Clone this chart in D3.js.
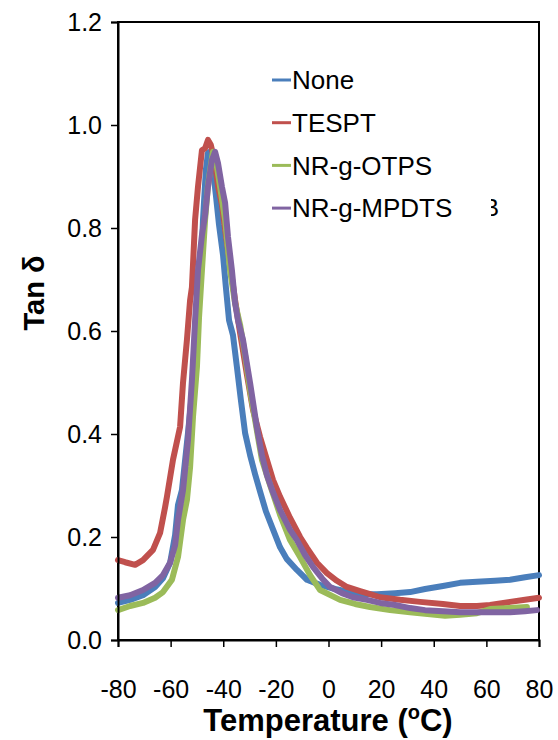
<!DOCTYPE html>
<html>
<head>
<meta charset="utf-8">
<script src="https://cdn.jsdelivr.net/npm/d3@7"></script>
<style>
  body { margin: 0; background: #fff; }
  text { font-family: "Liberation Sans", Arial, sans-serif; }
</style>
</head>
<body>
<div id="chart"></div>
<script>
// temperature / tan delta readings, one pair of arrays per sample
const noneT = [-80, -75.4, -70.5, -65.9, -62.9, -60.2, -58.3, -57.2, -55.7, -53.4, -51.5, -50.0, -48.8, -47.7, -46.6, -45.8, -45.0, -43.9, -42.8, -41.6, -40.1, -39.0, -37.8, -36.3, -34.8, -33.3, -31.7, -29.8, -27.9, -26.0, -23.8, -21.1, -18.4, -15.8, -12.0, -8.2, -3.2, 2.5, 8.2, 13.9, 18.4, 25.3, 31.0, 36.7, 43.5, 50.0, 56.4, 63.3, 69.0, 74.7, 80];
const noneV = [0.072, 0.078, 0.087, 0.103, 0.120, 0.150, 0.204, 0.262, 0.291, 0.402, 0.499, 0.596, 0.685, 0.816, 0.913, 0.946, 0.948, 0.913, 0.864, 0.806, 0.748, 0.685, 0.621, 0.592, 0.530, 0.466, 0.402, 0.359, 0.322, 0.288, 0.250, 0.215, 0.180, 0.157, 0.136, 0.117, 0.107, 0.099, 0.093, 0.089, 0.089, 0.091, 0.093, 0.099, 0.105, 0.111, 0.113, 0.115, 0.117, 0.122, 0.126];

const tesptT = [-80, -77.3, -73.5, -70.5, -66.7, -64.0, -62.1, -61.4, -59.1, -56.4, -55.3, -53.8, -52.6, -51.9, -50.7, -49.6, -48.1, -46.9, -45.8, -44.7, -43.1, -42.0, -40.5, -39.0, -37.4, -35.5, -33.6, -31.0, -28.7, -26.0, -23.4, -21.1, -18.4, -14.6, -10.8, -8.2, -4.4, -0.6, 3.2, 7.0, 12.0, 15.8, 19.6, 27.2, 34.8, 43.5, 50.0, 56.4, 61.4, 69.0, 74.7, 80];
const tesptV = [0.155, 0.151, 0.146, 0.155, 0.175, 0.208, 0.258, 0.278, 0.350, 0.414, 0.499, 0.583, 0.660, 0.685, 0.816, 0.880, 0.951, 0.955, 0.971, 0.961, 0.926, 0.882, 0.845, 0.786, 0.728, 0.660, 0.596, 0.515, 0.447, 0.394, 0.350, 0.311, 0.278, 0.237, 0.200, 0.179, 0.150, 0.130, 0.115, 0.103, 0.095, 0.089, 0.083, 0.078, 0.074, 0.070, 0.066, 0.066, 0.068, 0.074, 0.078, 0.082];

const otpsT = [-80, -75.4, -70.5, -65.9, -62.9, -59.5, -57.2, -55.3, -53.8, -52.6, -51.5, -50.0, -49.2, -48.1, -46.9, -45.8, -44.7, -43.9, -42.8, -41.2, -39.3, -37.4, -35.5, -33.6, -31.7, -29.8, -27.9, -25.3, -22.2, -18.4, -14.6, -10.8, -7.0, -3.2, 4.4, 10.1, 15.8, 23.4, 31.0, 38.6, 44.3, 50.0, 56.4, 61.4, 69.0, 75.4];
const otpsV = [0.058, 0.066, 0.072, 0.082, 0.093, 0.117, 0.161, 0.233, 0.272, 0.336, 0.433, 0.530, 0.627, 0.718, 0.816, 0.883, 0.922, 0.948, 0.932, 0.880, 0.816, 0.718, 0.654, 0.612, 0.553, 0.485, 0.427, 0.350, 0.301, 0.243, 0.194, 0.161, 0.126, 0.097, 0.078, 0.070, 0.064, 0.058, 0.054, 0.050, 0.047, 0.049, 0.052, 0.060, 0.062, 0.064];

const mpdtsT = [-80, -75.4, -70.5, -65.9, -62.9, -60.2, -58.3, -57.2, -55.3, -53.4, -51.9, -50.7, -49.6, -48.1, -46.9, -45.8, -44.3, -43.1, -42.0, -40.5, -39.3, -38.2, -36.7, -35.5, -34.4, -32.5, -29.8, -27.2, -25.3, -23.4, -21.1, -18.4, -14.6, -12.0, -8.9, -5.9, -2.5, 0.6, 5.1, 9.3, 14.6, 19.6, 25.3, 31.0, 36.7, 43.5, 50.0, 56.4, 63.3, 69.0, 74.7, 79.2];
const mpdtsV = [0.082, 0.087, 0.097, 0.111, 0.126, 0.150, 0.184, 0.233, 0.291, 0.388, 0.505, 0.621, 0.718, 0.786, 0.825, 0.880, 0.932, 0.948, 0.926, 0.880, 0.849, 0.783, 0.718, 0.654, 0.621, 0.583, 0.499, 0.412, 0.359, 0.320, 0.287, 0.252, 0.214, 0.194, 0.165, 0.142, 0.120, 0.103, 0.091, 0.083, 0.078, 0.072, 0.068, 0.062, 0.058, 0.056, 0.054, 0.054, 0.054, 0.054, 0.056, 0.058];

const seriesNames = ["None", "TESPT", "NR-g-OTPS", "NR-g-MPDTS"];
const seriesColors = ["#4a7ebb", "#c0504d", "#9bbb59", "#8064a2"];
const xTicks = [-80, -60, -40, -20, 0, 20, 40, 60, 80];
const yTicks = [0, 0.2, 0.4, 0.6, 0.8, 1.0, 1.2];

const series = [
    { name: seriesNames[0], color: seriesColors[0], values: noneT.map((t, i) => [t, noneV[i]]) },
    { name: seriesNames[1], color: seriesColors[1], values: tesptT.map((t, i) => [t, tesptV[i]]) },
    { name: seriesNames[2], color: seriesColors[2], values: otpsT.map((t, i) => [t, otpsV[i]]) },
    { name: seriesNames[3], color: seriesColors[3], values: mpdtsT.map((t, i) => [t, mpdtsV[i]]) }
];

const width = 558, height = 740;
const margin = { top: 22, right: 19, bottom: 100, left: 118 };
const innerW = width - margin.left - margin.right;
const innerH = height - margin.top - margin.bottom;

const svg = d3.select("#chart")
    .append("svg")
    .attr("width", width)
    .attr("height", height);

const g = svg.append("g")
    .attr("transform", `translate(${margin.left},${margin.top})`);

const x = d3.scaleLinear().domain([-80, 80]).range([0, innerW]);
const y = d3.scaleLinear().domain([0, 1.2]).range([innerH, 0]);

// frame (top and right)
g.append("rect")
    .attr("x", 0).attr("y", 0)
    .attr("width", innerW).attr("height", innerH)
    .attr("fill", "none")
    .attr("stroke", "#000")
    .attr("stroke-width", 2);

// curves
const line = d3.line()
    .x(d => x(d[0]))
    .y(d => y(d[1]));

g.selectAll("path.curve")
    .data(series)
    .enter()
    .append("path")
    .attr("class", "curve")
    .attr("d", d => line(d.values))
    .attr("fill", "none")
    .attr("stroke", d => d.color)
    .attr("stroke-width", 6)
    .attr("stroke-linejoin", "round")
    .attr("stroke-linecap", "round");

// axes
const xAxis = g.append("g")
    .attr("transform", `translate(0,${innerH})`)
    .call(d3.axisBottom(x).tickValues(xTicks).tickSize(7).tickFormat(d => String(d)));

const yAxis = g.append("g")
    .call(d3.axisLeft(y).tickValues(yTicks).tickSize(7).tickPadding(9).tickFormat(d3.format(".1f")));

[xAxis, yAxis].forEach(a => {
    a.select(".domain").attr("stroke", "#000").attr("stroke-width", 2);
    a.selectAll(".tick line").attr("stroke", "#000").attr("stroke-width", 1.5);
    a.selectAll("text")
        .style("font-size", "25px")
        .style("font-family", "'Liberation Sans', Arial, sans-serif")
        .attr("fill", "#000");
});
xAxis.selectAll("text").attr("y", 58).attr("dy", 0);

// axis titles
const xTitle = svg.append("text")
    .attr("x", 328)
    .attr("y", 731)
    .attr("text-anchor", "middle")
    .style("font-size", "31px")
    .style("font-weight", "bold");
xTitle.append("tspan").text("Temperature (");
xTitle.append("tspan").attr("dy", -12).style("font-size", "20px").text("o");
xTitle.append("tspan").attr("dy", 12).text("C)");

svg.append("text")
    .attr("transform", "translate(44,293) rotate(-90)")
    .attr("text-anchor", "middle")
    .style("font-size", "29px")
    .style("font-weight", "bold")
    .text("Tan δ");

// legend
const legend = svg.append("g").attr("transform", "translate(272,80)");
series.forEach((s, i) => {
    const row = legend.append("g").attr("transform", `translate(0,${i * 42.7})`);
    row.append("line")
        .attr("x1", 0).attr("x2", 19)
        .attr("y1", 0).attr("y2", 0)
        .attr("stroke", s.color)
        .attr("stroke-width", 3);
    row.append("text")
        .attr("x", 20)
        .attr("y", 0)
        .attr("dy", "0.36em")
        .style("font-size", "26px")
        .text(s.name);
});

// stray clipped label fragment beside the legend
svg.append("clipPath").attr("id", "frag")
    .append("rect").attr("x", 491).attr("y", 190).attr("width", 20).attr("height", 30);
svg.append("text")
    .attr("x", 483)
    .attr("y", 216)
    .attr("clip-path", "url(#frag)")
    .style("font-size", "24px")
    .text("B");
</script>
</body>
</html>
